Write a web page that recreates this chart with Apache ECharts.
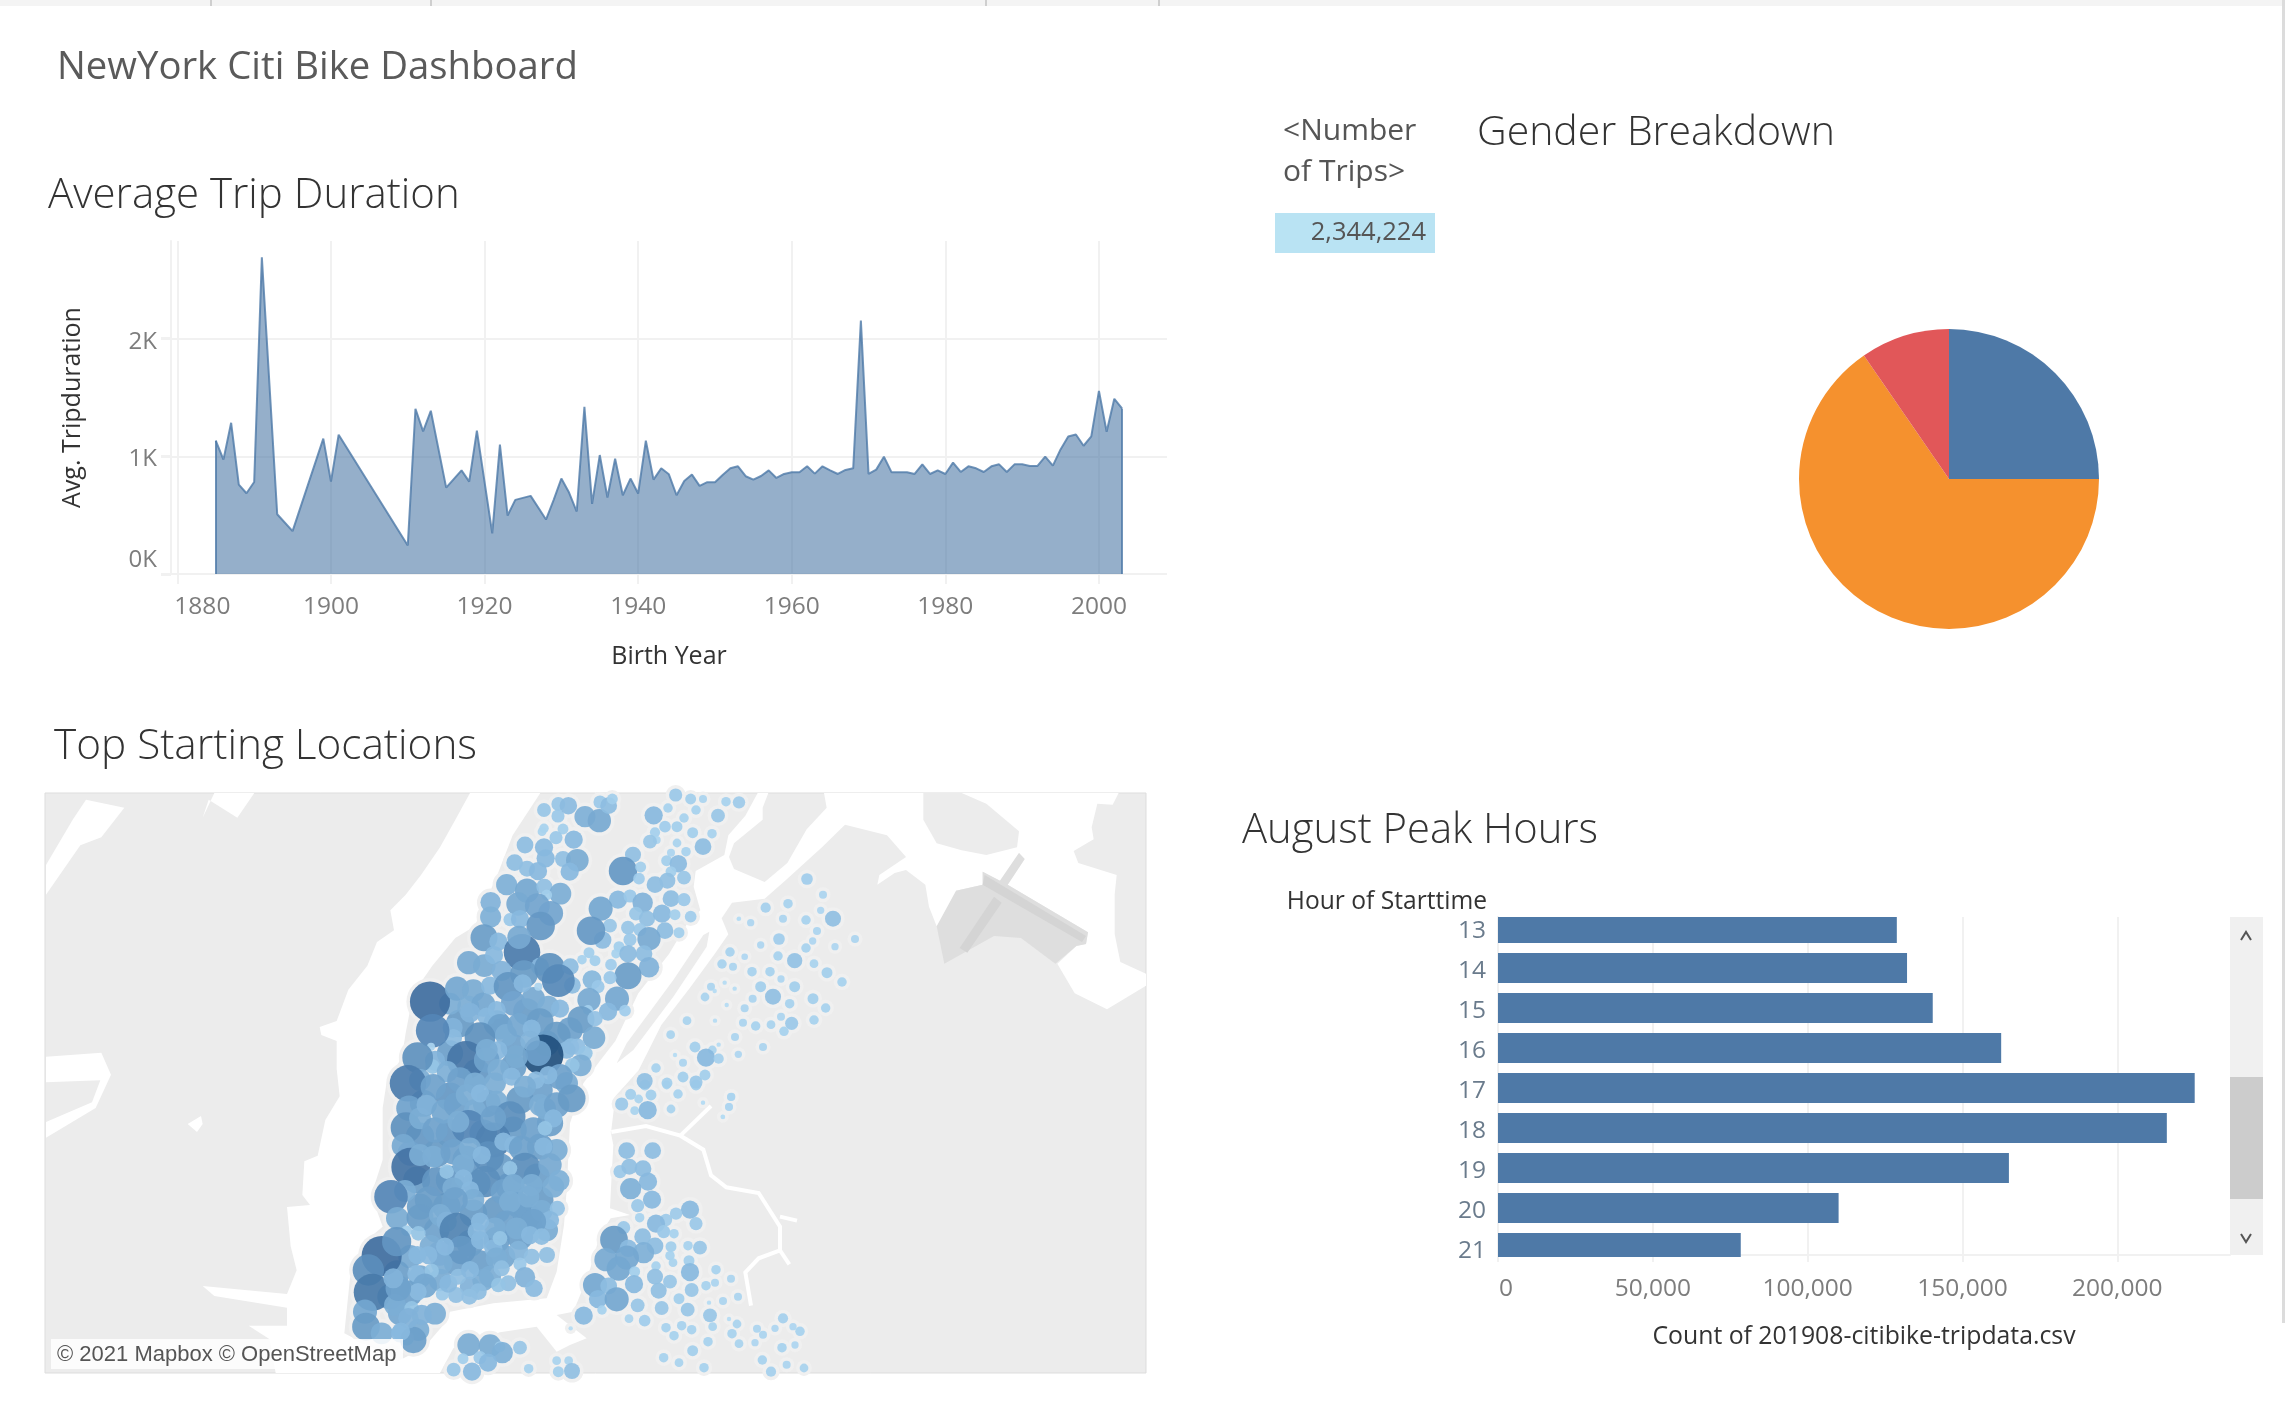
<!DOCTYPE html>
<html><head><meta charset="utf-8">
<style>html,body{margin:0;padding:0;background:#fff}#c{width:2285px;height:1424px}</style>
<script src="https://cdn.jsdelivr.net/npm/echarts@6/dist/echarts.min.js"></script>
</head><body><div id="c"></div>
<script>
// ---------- Average Trip Duration ----------
const birthYear = [1885,1886,1887,1888,1889,1890,1891,1893,1895,1899,1900,1901,1910,1911,1912,1913,1915,1917,1918,1919,1921,1922,1923,1924,1926,1928,1929,1930,1931,1932,1933,1934,1935,1936,1937,1938,1939,1940,1941,1942,1943,1944,1945,1946,1947,1948,1949,1950,1951,1952,1953,1954,1955,1956,1957,1958,1959,1960,1961,1962,1963,1964,1965,1966,1967,1968,1969,1970,1971,1972,1973,1974,1975,1976,1977,1978,1979,1980,1981,1982,1983,1984,1985,1986,1987,1988,1989,1990,1991,1992,1993,1994,1995,1996,1997,1998,1999,2000,2001,2002,2003];
const avgDuration = [1133,972,1285,760,686,782,2692,508,364,1150,785,1184,243,1404,1212,1387,734,881,785,1218,345,1099,497,630,664,463,630,811,692,531,1421,596,1011,650,980,669,811,684,1133,802,898,847,669,791,845,749,780,780,842,898,915,831,802,833,881,816,850,864,864,915,853,915,881,850,884,898,2153,850,887,997,864,864,864,850,932,850,881,850,946,867,915,898,867,915,932,867,932,932,918,918,997,921,1059,1169,1186,1090,1169,1556,1209,1489,1407];
const yearTicks = [1880,1900,1920,1940,1960,1980,2000];
const durationTicks = [0,1000,2000];

// ---------- Summary ----------
const totalTrips = 2344224;

// ---------- Gender Breakdown ----------
const genderNames = ['Female','Male','Unknown'];
const genderTrips = [586056,1533123,225045];

// ---------- August Peak Hours ----------
const peakHours = [13,14,15,16,17,18,19,20,21];
const peakCounts = [128800,132100,140400,162500,225000,216000,165000,110000,78400];
const countTicks = [0,50000,100000,150000,200000];

// ---------- Top Starting Locations: [map x, map y, trips index] ----------
const denseStations = [[360,700,76],[470,700,72],[560,665,74],[690,720,70],[330,790,72],[520,770,70],[620,760,70],[410,850,78],[520,830,72],[600,900,70],[250,940,74],[330,920,78],[440,940,76],[540,930,76],[630,1000,72],[680,880,62],[240,1040,78],[330,1030,78],[430,1030,76],[520,1020,74],[600,1070,72],[210,1090,68],[290,1090,76],[380,1110,78],[480,1130,74],[590,1160,72],[650,1080,60],[230,1170,74],[330,1170,78],[410,1180,76],[510,1190,78],[600,1230,74],[640,1190,60],[240,1250,72],[320,1250,76],[400,1270,76],[470,1260,76],[560,1280,76],[290,1320,70],[390,1360,74],[470,1350,72],[540,1340,72],[620,1320,62],[300,1390,68],[350,1420,70],[420,1420,72],[490,1400,66],[210,1400,64],[240,1460,62],[300,1470,62],[390,1490,56],[430,1470,60],[170,1450,72],[150,1520,70],[210,1510,70],[180,1570,66],[235,1620,60]];
const harlemStations = [[612,60,38],[655,42,38],[654,78,36],[685,47,48],[735,80,58],[778,92,64],[780,36,36],[806,47,46],[817,27,30],[612,115,26],[606,125,24],[669,117,30],[648,143,36],[701,149,50],[555,165,46],[612,172,50],[617,205,50],[669,207,44],[712,211,62],[524,218,46],[561,236,44],[594,243,50],[689,245,50],[500,284,58],[561,302,66],[613,290,44],[661,311,60],[620,315,30],[452,337,56],[452,381,58],[534,342,64],[632,370,68],[592,347,68],[510,389,36],[540,387,50],[602,408,78],[432,443,74],[475,455,50],[546,487,100],[537,442,64],[386,518,64],[433,527,62],[462,495,50],[485,543,56],[600,530,50],[552,552,76],[629,535,84],[697,586,46],[691,530,46],[655,572,90]];
const eastSideStations = [[941,76,50],[984,54,26],[1007,15,36],[1052,27,30],[1089,27,22],[1158,35,26],[1197,37,34],[1068,60,26],[1134,77,38],[1032,84,26],[975,110,32],[1011,110,30],[945,127,28],[1058,128,30],[1116,131,26],[950,150,22],[930,155,38],[1011,159,24],[1089,170,46],[1038,185,26],[993,188,22],[879,194,44],[849,243,78],[902,231,30],[980,212,30],[1015,221,48],[897,266,32],[993,245,30],[1032,263,38],[945,284,46],[982,272,44],[993,326,46],[1032,329,36],[834,329,50],[870,318,36],[908,338,56],[782,356,66],[888,371,38],[921,386,44],[966,371,50],[1005,374,30],[1052,380,32],[810,407,38],[864,413,38],[900,419,36],[975,422,46],[1017,428,30],[788,450,48],[753,422,78],[927,446,64],[870,449,36],[837,470,30],[828,491,26],[864,491,48],[912,491,46],[747,488,30],[726,509,26],[765,512,30],[813,524,32],[927,532,56],[864,557,74],[756,569,52],[810,563,36],[774,590,36],[747,629,64],[831,626,66],[855,662,32],[804,665,50],[744,660,28],[723,689,74],[765,686,42],[762,743,62]];
const midtownStations = [[330,641,60],[270,635,110],[351,596,66],[400,602,62],[385,650,60],[430,644,66],[450,587,50],[505,590,80],[520,640,68],[580,626,64],[625,650,60],[660,656,50],[548,580,50],[595,590,22],[390,668,55],[338,713,55],[340,743,48],[278,722,92],[273,770,22],[440,680,50],[470,660,50],[480,710,70],[420,743,84],[498,735,60],[538,705,66],[600,695,74],[650,737,76],[693,770,46],[712,770,45],[736,790,40],[722,826,60],[680,780,48],[609,795,112],[697,826,40],[660,860,70],[625,855,50],[588,870,48],[575,716,50],[570,752,54],[530,800,62],[595,790,70],[285,812,55],[278,830,40],[233,803,84],[378,810,104],[322,845,58],[240,870,60],[204,880,100],[475,780,50],[440,810,70],[475,840,60],[440,780,60],[360,870,70],[280,890,70],[405,880,60],[465,880,60],[515,860,50],[555,890,60]];
const downtownStations = [[207,955,70],[198,1013,84],[190,1067,64],[212,1131,106],[195,1203,60],[153,1220,92],[172,1285,62],[125,1398,110],[85,1440,86],[97,1507,102],[75,1565,66],[78,1610,76],[125,1630,60],[200,1645,40],[180,1630,50],[220,1650,72],[240,985,60],[285,1020,70],[260,945,56],[310,965,66],[350,945,70],[380,915,60],[405,960,60],[420,910,50],[385,1010,92],[470,935,60],[510,980,85],[460,1050,96],[445,1100,85],[435,1175,86],[355,995,60],[460,985,70],[290,1175,80],[265,1230,74],[240,1095,60],[280,1100,60],[340,1085,70],[390,1075,60],[425,1095,50],[320,1145,40],[370,1125,60],[370,1165,50],[340,1195,60],[390,1200,50],[400,1230,60],[345,1230,70],[490,1055,50],[520,1065,50],[545,1075,70],[580,1020,70],[610,1070,50],[555,1135,86],[575,1185,60],[600,945,60],[615,955,60],[650,945,70],[640,985,50],[615,1015,40],[695,925,76],[510,1135,40],[630,1125,64],[657,1172,58],[490,1205,70],[520,1185,60],[535,1245,70],[565,1220,60],[510,1235,60],[605,1263,60],[652,1255,42],[630,1290,50],[580,1295,70],[500,1300,70],[465,1315,60],[530,1315,60],[570,1335,50],[605,1340,46],[240,1283,74],[300,1275,60],[320,1295,56],[350,1320,94],[410,1325,50],[420,1295,50],[365,1380,78],[420,1350,50],[460,1375,50],[480,1345,40],[470,1405,60],[535,1382,54],[575,1400,44],[621,1395,44],[540,1422,36],[555,1462,56],[582,1495,48],[450,1460,60],[485,1435,44],[505,1480,44],[475,1485,40],[415,1505,46],[388,1520,44],[348,1515,44],[307,1512,36],[325,1481,50],[355,1460,44],[390,1440,50],[305,1420,60],[275,1443,40],[272,1368,60],[315,1370,50],[232,1395,50],[200,1322,30],[170,1355,80],[235,1330,40],[228,1451,48],[255,1487,66],[234,1505,48],[165,1545,60],[175,1495,70],[215,1555,40],[285,1571,60],[245,1575,56],[205,1585,56],[183,1625,50],[160,1465,55],[265,1395,50]];
const brooklynStations = [[845,942,36],[872,913,30],[896,927,24],[933,915,30],[884,962,24],[923,960,50],[993,957,24],[1014,912,26],[1089,938,12],[1173,921,22],[1167,951,22],[1149,981,12],[915,885,30],[980,885,24],[1068,885,30],[860,1082,46],[938,1082,46],[840,1145,36],[868,1130,44],[909,1136,46],[924,1175,50],[872,1196,58],[936,1229,50],[893,1247,36],[899,1283,26],[1050,1259,50],[1008,1271,34],[978,1290,34],[948,1301,50],[1068,1301,36],[971,1325,36],[1002,1331,26],[851,1313,36],[822,1349,76],[908,1340,46],[865,1375,48],[945,1368,46],[993,1370,30],[1044,1367,26],[1080,1373,38],[798,1409,64],[911,1388,58],[861,1403,66],[836,1436,66],[990,1397,26],[999,1418,24],[1047,1412,30],[948,1428,26],[1050,1446,50],[1128,1439,26],[1173,1466,22],[884,1445,30],[945,1460,44],[765,1485,66],[882,1482,50],[990,1475,38],[1125,1478,22],[1098,1487,26],[806,1488,46],[956,1502,44],[1055,1500,38],[774,1527,50],[830,1528,66],[1017,1526,30],[1149,1533,22],[1107,1538,12],[1194,1520,22],[893,1546,38],[965,1554,38],[1043,1559,38],[786,1560,26],[1110,1576,38],[731,1577,50],[867,1586,24],[914,1592,32],[1167,1587,12],[1191,1602,24],[978,1613,26],[1025,1607,26],[1118,1610,24],[1055,1619,26],[1176,1631,26],[1002,1637,26],[1104,1655,26],[1197,1661,24],[1058,1682,30],[971,1703,26],[1017,1718,24],[1092,1733,26],[692,1615,12],[386,1664,62],[450,1667,62],[480,1670,30],[487,1688,58],[540,1673,38],[369,1706,30],[420,1703,36],[444,1718,50],[341,1739,38],[396,1745,50],[566,1736,26],[650,1712,24],[686,1712,24],[696,1743,44],[655,1745,30],[507,1750,26]];
const queensStations = [[1113,590,22],[1154,578,12],[1124,603,12],[1184,596,12],[1095,621,24],[1160,645,12],[1041,692,24],[1125,692,12],[992,734,24],[1185,741,22],[1136,764,12],[1065,771,30],[1117,780,24],[1005,795,12],[1098,803,50],[1136,806,28],[1029,818,22],[948,834,26],[1195,793,20],[914,873,44],[981,879,30],[1029,861,30],[1068,876,36],[1095,855,30],[1170,486,26],[1146,522,26],[1179,530,22],[1195,387,10],[1401,267,32],[1449,314,22],[1344,341,26],[1277,353,28],[1442,361,20],[1479,386,44],[1329,386,22],[1398,390,26],[1232,398,20],[1197,386,12],[1431,423,22],[1545,447,22],[1317,447,32],[1418,453,20],[1262,465,20],[1485,470,20],[1398,474,26],[1214,500,18],[1314,498,26],[1364,512,42],[1422,521,24],[1236,545,26],[1290,545,26],[1461,548,30],[1323,567,20],[1506,576,26],[1262,590,30],[1364,590,30],[1299,620,44],[1238,626,22],[1419,626,30],[1349,641,26],[1214,655,22],[1457,654,26],[1323,680,22],[1422,690,26],[1355,700,36],[1209,698,22],[1293,704,24],[1247,708,26],[1332,724,26],[1269,771,22],[1174,920,22],[1167,950,20],[1089,938,10],[1148,980,12],[1329,1585,28],[1359,1610,20],[1380,1624,26],[1305,1615,20],[1251,1616,22],[1269,1634,22],[1245,1658,20],[1326,1673,26],[1365,1665,20],[1267,1710,26],[1340,1724,22],[1392,1734,24],[1293,1745,28]];
const allStations = [].concat(denseStations,harlemStations,eastSideStations,midtownStations,downtownStations,brooklynStations,queensStations);

// ---------- Basemap shapes, in the same map units ----------
const riverOutline = [[390,9],[346,89],[300,172],[243,255],[197,314],[151,361],[162,421],[111,456],[82,527],[25,599],[-10,693],[-61,711],[-56,735],[-10,753],[-10,836],[-1,919],[-44,990],[-67,1097],[-107,1114],[-113,1215],[-90,1245],[-159,1251],[-148,1369],[-130,1441],[-159,1512],[-412,1488],[-377,1518],[-159,1553],[-159,1607],[-274,1607],[-211,1648],[-193,1749],[300,1749],[340,1675],[480,1627],[590,1610],[650,1685],[690,1665],[740,1645],[650,1575],[700,1565],[745,1455],[780,1335],[812,1285],[870,1275],[810,1255],[815,1155],[820,1065],[812,1025],[814,1020],[826,919],[895,842],[964,705],[1050,593],[1124,492],[1165,433],[1145,385],[1176,338],[1274,326],[1342,266],[1446,172],[1515,104],[1641,136],[1698,201],[1618,255],[1612,284],[1664,249],[1698,240],[1756,284],[1767,350],[1790,409],[1859,397],[1848,302],[1928,284],[1928,245],[1980,272],[2037,189],[2054,207],[2003,284],[2244,427],[2238,462],[2209,468],[2152,521],[2204,610],[2301,658],[2418,587],[2418,551],[2341,516],[2324,432],[2324,314],[2330,255],[2215,219],[2201,183],[2261,148],[2255,112],[2272,41],[2318,44],[2336,9],[1452,9],[1460,53],[1400,118],[1342,219],[1274,276],[1182,237],[1167,201],[1182,160],[1268,89],[1268,53],[1285,9],[1253,9],[1216,77],[1165,136],[1153,195],[1067,243],[1061,290],[1081,361],[1044,397],[987,492],[895,610],[826,753],[780,812],[730,880],[690,1000],[680,1200],[672,1305],[650,1445],[620,1525],[460,1540],[330,1565],[310,1605],[250,1675],[174,1713],[13,1630],[30,1464],[71,1358],[128,1310],[94,1215],[128,1109],[128,954],[139,883],[186,800],[197,729],[220,610],[277,527],[346,444],[404,409],[472,255],[518,136],[601,9]];
const jerseyWater = [
  [[-882,225],[-802,89],[-762,29],[-647,53],[-716,142],[-779,166],[-882,314]],
  [[-882,800],[-716,788],[-687,854],[-733,954],[-882,1043],[-882,996],[-744,937],[-719,871],[-882,877]],
  [[-412,83],[-394,29],[-308,83],[-257,9],[-377,9]],
  [[-457,1002],[-417,978],[-412,1002],[-429,1026]]
];
const islands = [
  [[830,820],[860,760],[1000,570],[1090,435],[1108,425],[1100,470],[1000,620],[880,780]],
  [[1750,9],[1750,89],[1790,160],[1865,181],[1939,195],[2031,172],[2037,124],[1939,41],[1865,9]]
];
const airport = [[[1790,409],[1848,302],[1928,284],[1928,245],[1980,272],[2037,189],[2054,207],[2003,284],[2244,427],[2238,462],[2209,468],[2146,521],[2043,444],[1962,438],[1813,521]]];
const runways = [[[1859,474],[1962,320],[1985,338],[1882,488]],[[1934,255],[2238,438],[2226,456],[1928,284]]];
const creeks = [
  [[814,1026],[918,1008],[1021,1037],[1090,1079],[1113,1156],[1159,1192],[1256,1209],[1320,1310],[1320,1381],[1348,1423]],
  [[1021,1037],[1113,948]],
  [[1320,1280],[1371,1292]],
  [[1320,1381],[1256,1405],[1216,1447],[1233,1547]]
];

// ---------- Styles ----------
const bookFont = '"Open Sans","Noto Sans",sans-serif';
const GRID = '#f1f1f1';
const AXIS_TEXT = '#7d7d7d';
const LAND = '#ececec';
const shades = ['#b6dcf4','#a2ceec','#88b9de','#6fa2cc','#5689b8','#3f6e9f'];
function shade(v){
  if(v>=112) return '#22507e';
  const t = Math.max(0,Math.min(1,(v-10)/100));
  return echarts.color.lerp(t,shades);
}
function polygons(list,fill,gridIdx,z){
  return {type:'custom',coordinateSystem:'cartesian2d',xAxisIndex:gridIdx,yAxisIndex:gridIdx,clip:true,silent:true,z:z,
    encode:{x:0,y:1},data:list.map((p,i)=>[p[0][0],p[0][1],i]),
    renderItem:(params,api)=>({type:'polygon',shape:{points:list[api.value(2)].map(c=>api.coord(c))},style:{fill:fill}})};
}
function polylines(list,stroke,width,gridIdx,z){
  return {type:'custom',coordinateSystem:'cartesian2d',xAxisIndex:gridIdx,yAxisIndex:gridIdx,clip:true,silent:true,z:z,
    encode:{x:0,y:1},data:list.map((p,i)=>[p[0][0],p[0][1],i]),
    renderItem:(params,api)=>({type:'polyline',shape:{points:list[api.value(2)].map(c=>api.coord(c))},style:{fill:null,stroke:stroke,lineWidth:width}})};
}
function txt(text,x,y,size,color,extra){
  return {type:'text',x:x,y:y,z:50,style:Object.assign({text:text,fontFamily:bookFont,fontSize:size,fill:color,textVerticalAlign:'middle',textAlign:'left'},extra||{})};
}
function rect(x,y,w,h,fill,z){return {type:'rect',z:z||40,shape:{x:x,y:y,width:w,height:h},style:{fill:fill}};}
function chevron(cx,cy,dir){
  return {type:'polyline',z:45,shape:{points:[[cx-5,cy+dir*4],[cx,cy-dir*4],[cx+5,cy+dir*4]]},style:{fill:null,stroke:'#555',lineWidth:2}};
}
const lowText = {fontFamily:bookFont,fontSize:24,color:AXIS_TEXT,padding:[6,0,0,0]};
const dotSize = d=>d[2]*0.365;

const chart = echarts.init(document.getElementById('c'),null,{renderer:'canvas'});
chart.setOption({
  animation:false,
  backgroundColor:'#ffffff',
  grid:[
    {left:171,top:241,width:996,height:333,containLabel:false},
    {left:45,top:793,width:1101,height:580,show:true,backgroundColor:LAND,borderColor:'#dddddd',borderWidth:1},
    {left:1498,top:917,width:732,height:338},
    {left:1275,top:213,width:160,height:40}
  ],
  xAxis:[
    {gridIndex:0,type:'value',min:1879.17,max:2008.86,
      name:'Birth Year',nameLocation:'middle',nameGap:70,nameTextStyle:{fontFamily:bookFont,fontSize:25,color:'#333'},
      axisLine:{show:false},
      axisTick:{show:true,length:10,customValues:yearTicks,lineStyle:{color:GRID,width:2}},
      axisLabel:{customValues:yearTicks,margin:21,fontFamily:bookFont,fontSize:24.5,color:AXIS_TEXT,
        formatter:v=>v===yearTicks[0]?'{s|'+v+'}':String(v),
        rich:{s:{fontFamily:bookFont,fontSize:24.5,color:AXIS_TEXT,padding:[0,0,0,50]}}},
      splitLine:{show:true,customValues:yearTicks,lineStyle:{color:GRID,width:2}}},
    {gridIndex:1,type:'value',min:-885,max:2418,show:false},
    {gridIndex:2,type:'value',min:0,max:236400,
      name:'Count of 201908-citibike-tripdata.csv',nameLocation:'middle',nameGap:69,nameTextStyle:{fontFamily:bookFont,fontSize:24.8,color:'#333'},
      axisLine:{show:true,lineStyle:{color:GRID,width:2}},
      axisTick:{show:true,length:7,customValues:countTicks,lineStyle:{color:GRID,width:2}},
      axisLabel:{customValues:countTicks,margin:22,fontFamily:bookFont,fontSize:24.5,color:AXIS_TEXT,
        formatter:v=>v===0?'{s|0}':v.toLocaleString('en-US'),
        rich:{s:{fontFamily:bookFont,fontSize:24.5,color:AXIS_TEXT,padding:[0,0,0,16]}}},
      splitLine:{show:true,customValues:countTicks,lineStyle:{color:GRID,width:2}}},
    {gridIndex:3,type:'value',min:0,max:totalTrips,show:false}
  ],
  yAxis:[
    {gridIndex:0,type:'value',min:0,max:2830,
      name:'Avg. Tripduration',nameLocation:'middle',nameRotate:90,nameGap:86,nameTextStyle:{fontFamily:bookFont,fontSize:25,color:'#333'},
      axisLine:{show:true,lineStyle:{color:GRID,width:2}},
      axisTick:{show:true,length:10,customValues:durationTicks,lineStyle:{color:GRID,width:3}},
      axisLabel:{customValues:durationTicks,margin:14,
        formatter:v=>v===0?'{z|0K}':'{s|'+(v/1000)+'K}',
        rich:{s:lowText,z:{fontFamily:bookFont,fontSize:24,color:AXIS_TEXT,padding:[0,0,28,0]}}},
      splitLine:{show:true,customValues:durationTicks,lineStyle:{color:GRID,width:2}}},
    {gridIndex:1,type:'value',min:9,max:1749,inverse:true,show:false},
    {gridIndex:2,type:'value',min:12.725,max:21.175,inverse:true,
      axisLine:{show:true,lineStyle:{color:GRID,width:2}},
      axisTick:{show:false},
      axisLabel:{customValues:peakHours,margin:12,formatter:v=>'{s|'+v+'}',
        rich:{s:{fontFamily:bookFont,fontSize:24.5,color:'#6a7b8c',padding:[6,0,0,0]}}},
      splitLine:{show:false}},
    {gridIndex:3,type:'category',data:['Number of Trips'],show:false}
  ],
  series:[
    {type:'line',xAxisIndex:0,yAxisIndex:0,symbol:'none',smooth:false,
      data:birthYear.map((y,i)=>[y,avgDuration[i]]),
      lineStyle:{color:'#4E79A7',width:2,opacity:.8},
      areaStyle:{color:'#4E79A7',opacity:.6},
      itemStyle:{color:'#4E79A7'},
      markLine:{silent:true,symbol:'none',label:{show:false},lineStyle:{color:'#4E79A7',width:2,type:'solid',opacity:.8},
        data:[[{coord:[birthYear[0],0]},{coord:[birthYear[0],avgDuration[0]]}],
              [{coord:[birthYear[birthYear.length-1],0]},{coord:[birthYear[birthYear.length-1],avgDuration[avgDuration.length-1]]}]]}},
    polygons([riverOutline].concat(jerseyWater),'#ffffff',1,2),
    polygons(islands,LAND,1,3),
    polygons(airport,'#dedede',1,3),
    polygons(runways,'#d4d4d4',1,3),
    polylines(creeks,'#ffffff',4,1,3),
    {type:'scatter',xAxisIndex:1,yAxisIndex:1,clip:true,silent:true,z:4,data:allStations,
      symbolSize:d=>dotSize(d)+7,itemStyle:{color:'#f0f0f0',opacity:1}},
    {type:'scatter',xAxisIndex:1,yAxisIndex:1,clip:true,silent:true,z:5,data:allStations,
      symbolSize:dotSize,itemStyle:{color:p=>shade(p.data[2]),opacity:.92}},
    {type:'custom',coordinateSystem:'cartesian2d',xAxisIndex:2,yAxisIndex:2,encode:{x:0,y:1},
      data:peakHours.map((h,i)=>[peakCounts[i],h]),
      renderItem:(params,api)=>{
        const a=api.coord([0,api.value(1)]), b=api.coord([api.value(0),api.value(1)]);
        const c=params.coordSys;
        const r=echarts.graphic.clipRectByRect({x:a[0],y:a[1]-15,width:b[0]-a[0],height:30},{x:c.x,y:c.y,width:c.width,height:c.height+2});
        return r&&{type:'rect',shape:r,style:{fill:'#4E79A7'}};
      }},
    {type:'bar',xAxisIndex:3,yAxisIndex:3,barWidth:'100%',data:[totalTrips],itemStyle:{color:'#b9e3f3'},
      label:{show:true,position:'insideRight',distance:9,fontFamily:bookFont,fontSize:25.5,color:'#555',formatter:p=>p.value.toLocaleString('en-US')}},
    {type:'pie',center:[1949,479],radius:[0,150],startAngle:90,clockwise:true,label:{show:false},labelLine:{show:false},silent:true,
      data:genderNames.map((n,i)=>({name:n,value:genderTrips[i]})),
      color:['#4E79A7','#F5912E','#E15759']}
  ],
  graphic:[
    rect(0,0,2285,6,'#f4f4f4'),
    rect(210,0,2,6,'#cfcfcf'),rect(430,0,2,6,'#cfcfcf'),rect(985,0,2,6,'#cfcfcf'),rect(1158,0,2,6,'#cfcfcf'),
    rect(2282,0,3,1323,'#dcdcdc'),
    txt('NewYork Citi Bike Dashboard',57,68,38.3,'#5a5a5a',{fontWeight:500}),
    txt('Average Trip Duration',48,196,42,'#333333',{fontWeight:300}),
    txt('Gender Breakdown',1477,133,41,'#333333',{fontWeight:300}),
    txt('Top Starting Locations',54,747,42.3,'#333333',{fontWeight:300}),
    txt('August Peak Hours',1242,831,41.8,'#333333',{fontWeight:300}),
    txt('<Number',1283,131,30,'#555555'),
    txt('of Trips>',1283,172,30,'#555555'),
    txt('Hour of Starttime',1487,902,24.6,'#333333',{textAlign:'right'}),
    rect(51,1339,352,30,'rgba(255,255,255,0.85)',30),
    {type:'text',x:57,y:1355,z:50,style:{text:'\u00A9 2021 Mapbox \u00A9 OpenStreetMap',fontFamily:'"Liberation Sans",Arial,sans-serif',fontSize:22,fill:'#555',textVerticalAlign:'middle'}},
    rect(2230,917,33,338,'#f0f0f0'),
    rect(2230,1077,33,122,'#cccccc',41),
    chevron(2246,936,1),
    chevron(2246,1238,-1)
  ]
});
</script></body></html>
